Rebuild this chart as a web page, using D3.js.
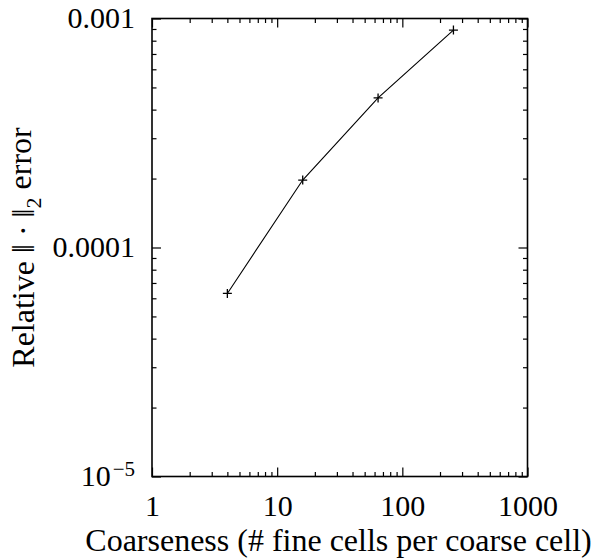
<!DOCTYPE html>
<html>
<head>
<meta charset="utf-8">
<script src="https://cdn.jsdelivr.net/npm/d3@7"></script>
<style>
  body { margin: 0; background: #fff; }
  text { font-family: "Liberation Serif", serif; fill: #000; }
</style>
</head>
<body>
<div id="chart"></div>
<script>
// Data
const coarseness = [4, 16, 64, 256];
const relError = [6.3e-5, 1.97e-4, 4.5e-4, 8.9e-4];
const xMajor = [1, 10, 100, 1000];
const yMajor = [1e-5, 1e-4, 1e-3];
const yLabels = ["", "0.0001", "0.001"];

const W = 594, H = 559;
const margin = {top: 18.5, right: 66.5, bottom: 82.5, left: 152};

const svg = d3.select("#chart").append("svg")
    .attr("width", W)
    .attr("height", H);

const x = d3.scaleLog().domain([1, 1000]).range([margin.left, W - margin.right]);
const y = d3.scaleLog().domain([1e-5, 1e-3]).range([H - margin.bottom, margin.top]);

// minor ticks 2..9 in each decade
const minor = dom => {
  const out = [];
  for (let d = dom[0]; d < dom[1]; d *= 10)
    for (let k = 2; k <= 9; k++) out.push(d * k);
  return out;
};
const xMinor = minor(x.domain());
const yMinor = minor(y.domain());

const yBot = y.range()[0], yTop = y.range()[1];
const xLeft = x.range()[0], xRight = x.range()[1];

function styleAxis(g) {
  g.select(".domain").remove();
  g.selectAll(".tick line").attr("stroke", "#000").attr("stroke-width", 1.2);
}

// bottom axis
svg.append("g")
    .attr("transform", `translate(0,${yBot})`)
    .call(d3.axisBottom(x).tickValues(xMajor).tickSize(-9).tickPadding(17)
      .tickFormat(d3.format("d")))
    .call(styleAxis)
    .selectAll("text").style("font-size", "30px").attr("dy", "0.75em");
svg.append("g")
    .attr("transform", `translate(0,${yBot})`)
    .call(d3.axisBottom(x).tickValues(xMinor).tickSize(-4.5).tickFormat(""))
    .call(styleAxis);

// top axis
svg.append("g")
    .attr("transform", `translate(0,${yTop})`)
    .call(d3.axisTop(x).tickValues(xMajor).tickSize(-9).tickFormat(""))
    .call(styleAxis);
svg.append("g")
    .attr("transform", `translate(0,${yTop})`)
    .call(d3.axisTop(x).tickValues(xMinor).tickSize(-4.5).tickFormat(""))
    .call(styleAxis);

// left axis
const yAxis = svg.append("g")
    .attr("transform", `translate(${xLeft},0)`)
    .call(d3.axisLeft(y).tickValues(yMajor).tickSize(-9).tickPadding(17)
      .tickFormat((d, i) => yLabels[i]))
    .call(styleAxis);
yAxis.selectAll("text").style("font-size", "30px").attr("dy", "0.3em");
// 10^-5 label with superscript
yAxis.selectAll(".tick").filter(d => d === 1e-5).select("text")
    .text("10")
    .append("tspan")
      .attr("dy", "-0.5em")
      .attr("dx", "2")
      .style("font-size", "21px")
      .text("\u22125");
svg.append("g")
    .attr("transform", `translate(${xLeft},0)`)
    .call(d3.axisLeft(y).tickValues(yMinor).tickSize(-4.5).tickFormat(""))
    .call(styleAxis);

// right axis
svg.append("g")
    .attr("transform", `translate(${xRight},0)`)
    .call(d3.axisRight(y).tickValues(yMajor).tickSize(-9).tickFormat(""))
    .call(styleAxis);
svg.append("g")
    .attr("transform", `translate(${xRight},0)`)
    .call(d3.axisRight(y).tickValues(yMinor).tickSize(-4.5).tickFormat(""))
    .call(styleAxis);

// frame
svg.append("rect")
    .attr("x", xLeft).attr("y", yTop)
    .attr("width", xRight - xLeft).attr("height", yBot - yTop)
    .attr("fill", "none").attr("stroke", "#000").attr("stroke-width", 1.6);

// line
const pts = coarseness.map((c, i) => [c, relError[i]]);
svg.append("path")
    .datum(pts)
    .attr("fill", "none")
    .attr("stroke", "#000")
    .attr("stroke-width", 1.1)
    .attr("d", d3.line().x(d => x(d[0])).y(d => y(d[1])));

// + markers
svg.selectAll(".pt")
  .data(pts)
  .join("path")
    .attr("class", "pt")
    .attr("transform", d => `translate(${x(d[0])},${y(d[1])})`)
    .attr("d", "M-4.5,0H4.5M0,-4.5V4.5")
    .attr("stroke", "#000")
    .attr("stroke-width", 1.3);

// axis labels
svg.append("text")
    .attr("x", 338.5)
    .attr("y", 551)
    .attr("text-anchor", "middle")
    .style("font-size", "32px")
    .text("Coarseness (# fine cells per coarse cell)");

const yl = svg.append("text")
    .attr("transform", `translate(34,${(yTop + yBot) / 2}) rotate(-90)`)
    .attr("text-anchor", "middle")
    .style("font-size", "32px");
yl.append("tspan").text("Relative \u2016 \u00B7 \u2016");
yl.append("tspan").attr("dy", "0.3em").style("font-size", "22px").text("2");
yl.append("tspan").attr("dy", "-0.3em").text(" error");
</script>
</body>
</html>
